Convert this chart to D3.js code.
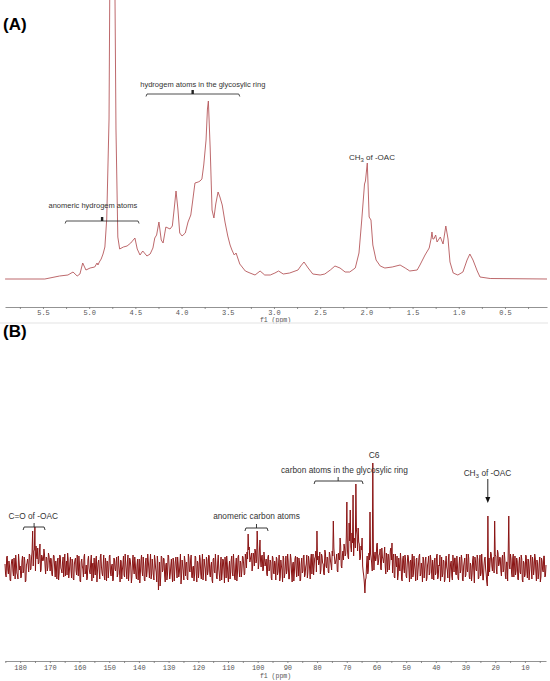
<!DOCTYPE html>
<html>
<head>
<meta charset="utf-8">
<script src="https://cdnjs.cloudflare.com/ajax/libs/d3/7.8.5/d3.min.js"></script>
<style>
  body { margin: 0; background: #fff; }
  svg { display: block; }
  .lab { font-family: "Liberation Sans", Arial, sans-serif; fill: #333; }
  .axis text { font-family: "Liberation Mono", "DejaVu Sans Mono", monospace; fill: #555; }
  .axis line, .axis path { stroke: #777; stroke-width: 0.8; }
</style>
</head>
<body>
<svg id="chart"></svg>
<script>
/* -------- 1H spectrum (A) -------- */
let hPpm = [5.91,5.48,5.32,5.23,5.175,5.13,5.10,5.07,5.035,4.99,4.94,4.915,4.905,4.89,4.87,4.85,4.83,4.81,4.785,4.77,
  4.75,4.73,4.71,4.69,4.67,4.63,4.59,4.55,4.505,4.48,4.45,4.42,4.375,4.34,4.31,4.29,4.27,4.245,4.22,4.20,
  4.17,4.125,4.10,4.08,4.06,4.04,4.02,3.995,3.96,3.93,3.90,3.88,3.855,3.82,3.80,3.78,3.76,3.735,3.72,3.71,
  3.69,3.67,3.65,3.63,3.605,3.585,3.56,3.53,3.50,3.475,3.455,3.43,3.41,3.37,3.31,3.26,3.205,3.15,3.10,3.04,
  2.99,2.95,2.90,2.83,2.74,2.71,2.675,2.63,2.58,2.50,2.45,2.39,2.34,2.285,2.23,2.18,2.12,2.08,2.05,2.02,
  2.01,1.99,1.98,1.97,1.95,1.93,1.895,1.85,1.80,1.72,1.635,1.58,1.53,1.45,1.42,1.365,1.32,1.30,1.29,1.28,
  1.27,1.25,1.235,1.20,1.17,1.14,1.116,1.095,1.06,1.01,0.955,0.91,0.88,0.846,0.825,0.80,0.77,0.66,0.045];
let hInt = [0,0,3,4,7,3,5,16,9,11,12,16,14,17,20,25,32,60,160,400,
  700,400,150,42,30,32,33,36,41,30,24,28,23,25,31,41,44,57,39,36,
  52,50,53,70,88,70,46,43,46,57,64,78,96,97,98,100,114,139,170,178,
  130,69,61,75,87,82,74,57,43,34,29,24,26,15,8,6,4,8,4,4,
  6,8,5,6,9,13,17,11,5,4,5,9,13,11,7,7,11,26,59,95,
  98,116,90,62,59,34,19,13,11,12,14,11,8,9,14,24,31,40,47,40,
  40,44,37,42,35,53,40,17,6,4,7,19,25,19,14,8,2,0.5,0];
let hTicks = [5.75,5.5,5.25,5.0,4.75,4.5,4.25,4.0,3.75,3.5,3.25,3.0,2.75,2.5,2.25,2.0,1.75,1.5,1.25,1.0,0.75,0.5,0.25];
let hTickLabels = [5.5,5.0,4.5,4.0,3.5,3.0,2.5,2.0,1.5,1.0,0.5];

/* -------- 13C spectrum (B) -------- */
let cStart = 185.1, cEnd = 2.9;
// noise, two interleaved passes (even / odd points)
let cNoiseEven = [
  4,-9,12,-6,2,-13,8,-3,10,-11,5,-7,14,-2,-10,7,-5,11,-14,3,
  9,-4,13,-1,16,2,18,-3,12,20,5,15,-2,11,8,14,-6,10,1,12,
  -3,9,-8,13,0,7,-11,10,-5,12,-2,6,-9,14,1,-7,9,-4,11,-10,
  6,-12,8,-3,13,-8,4,-14,9,-1,11,-6,3,-10,12,-4,7,-13,5,10,
  -7,12,-2,8,-11,14,-5,3,-9,10,-13,6,-1,13,-8,4,-12,9,-3,11,
  -6,2,-14,7,-2,12,-9,5,-11,13,-4,8,-15,6,-1,11,-7,3,-12,9,
  -5,13,-8,2,-13,10,-3,7,-10,14,-6,1,-12,8,-4,12,-22,6,-9,11,
  -2,9,-14,5,-7,12,-11,3,-5,10,-13,7,-1,11,-9,4,-16,8,-3,12,
  -8,6,-12,10,-4,13,-10,2,-7,11,-14,5,-2,9,-11,14,-6,3,-13,8,
  -3,12,-9,6,-15,10,-5,2,-11,13,-7,4,-12,9,-2,11,-10,5,-14,7,
  -4,12,-8,3,-12,10,-6,13,-9,5,-2,11,-7,14,0,9,18,6,12,-3,
  15,2,17,8,20,4,16,1,13,-2,10,5,-6,11,-3,8,-10,12,-5,7,
  -12,9,-4,13,-9,2,-14,10,-6,12,-2,7,-11,14,-5,4,-13,9,-1,11,
  -8,6,-12,10,-3,13,-7,4,-10,12,-1,9,-6,14,2,11,-4,8,3,16,
  -2,12,4,-7,15,0,10,-5,13,3,17,-1,11,6,14,-4,9,18,2,12,
  8,20,14,26,11,22,30,16,25,12,28,19,33,15,24,10,18,2,-8,-25,
  -10,12,-3,8,14,5,20,-2,16,10,22,6,14,-1,18,9,12,2,15,-4,
  13,4,20,-6,11,-9,14,1,-12,10,-3,7,-13,12,-5,9,-10,13,-2,6,
  -11,14,-6,3,-13,10,-4,12,-8,5,-14,9,-1,11,-10,6,-7,13,-3,8,
  -12,10,-5,14,-9,2,-13,11,-6,7,-11,12,-2,9,-14,5,-8,13,-4,10,
  -7,3,-12,11,-2,8,-13,6,-9,14,-4,10,-11,2,-6,12,-15,7,-3,9,
  -10,13,-5,4,-12,9,-1,-14,-22,10,6,14,-3,11,2,12,-6,15,4,10,
  -8,13,-2,9,-11,6,15,3,14,-5,10,-9,12,-3,7,-12,11,-6,9,-14,
  5,-7,12,-10,8,-3,13,-11,6,-1,10,-13,4,-6,11,-9,7,-4,12,-8];
let cNoiseOdd = [
  -6,11,-2,7,-12,3,9,-8,1,13,-5,-11,6,2,-9,12,-3,8,-13,5,
  3,14,-2,10,6,17,1,22,9,4,16,-4,13,7,19,2,11,-3,15,6,
  10,-6,4,12,-9,2,8,-12,13,0,-5,11,3,-8,7,15,-10,5,-2,9,
  -11,4,10,-7,-1,12,-13,6,2,-9,14,-4,-12,8,0,-6,13,3,-10,-2,
  9,-14,5,-3,11,1,-8,13,-12,4,7,-10,12,-5,2,-13,10,-1,6,-9,
  12,-4,8,-11,3,-7,14,-2,6,-13,10,1,-9,13,-6,4,-11,9,-1,-15,
  7,-3,11,-12,6,-9,14,-1,4,-11,9,-7,13,0,-14,5,-10,-18,12,-4,
  10,-8,3,-12,13,1,-6,9,-14,6,-2,11,-10,4,-5,14,-8,2,-12,7,
  5,-11,14,-3,8,-9,1,-13,12,-4,7,-10,13,-6,3,-12,9,-1,11,-7,
  13,-6,2,-12,9,-3,14,-10,6,-1,-13,11,-5,8,-15,4,12,-8,1,-11,
  8,-5,14,-10,3,-13,11,-2,7,-9,12,4,-6,10,16,3,21,9,15,2,
  11,19,5,14,-1,18,7,12,-3,16,2,9,-8,13,-2,6,-12,10,-6,4,
  11,-7,5,-13,8,-2,12,-10,3,-6,14,-11,1,9,-14,6,-4,12,-9,2,
  10,-13,4,-5,12,-9,1,13,-4,7,-11,14,3,-7,10,17,-3,12,5,-6,
  14,5,-6,18,2,11,-4,16,7,-2,12,20,4,9,-3,15,8,22,0,17,
  24,12,31,18,9,27,21,35,14,30,20,38,17,26,8,22,13,-4,-15,-12,
  4,-6,15,2,10,-3,17,11,7,24,3,13,19,-2,11,5,21,-6,9,14,
  -2,17,8,-5,14,-10,6,12,-7,3,15,-11,9,-1,13,-8,4,11,-14,8,
  6,-9,12,-2,9,-12,4,14,-6,-1,11,-10,7,-13,3,12,-5,8,-11,1,
  5,-7,12,-11,3,13,-4,-9,8,-14,6,1,-10,14,-3,7,-12,4,10,-6,
  12,-10,4,-5,13,-12,2,10,-7,-1,14,-9,5,-13,8,-3,11,-2,13,-11,
  6,-8,14,-12,2,11,-6,-18,-8,-4,16,2,9,-5,13,-1,18,2,11,-3,
  9,-4,16,-8,6,-13,11,-1,9,-9,14,2,-7,10,-11,4,-4,13,-12,7,
  -9,13,-3,9,-12,6,-1,11,-7,14,-4,8,-11,5,-14,10,-2,12,-9,3];
let cPeakPpm = [175.7,175.0,173.3,103.3,100.2,99.2,80.0,74.6,72.3,69.9,69.3,68.9,67.9,66.9,66.2,64.9,
  62.2,61.2,59.8,58.1,54.8,22.5,20.1,15.4];
let cPeakInt = [37,41,24,34,37,28,37,47,30,66,45,58,73,84,40,30,
  56,105,25,20,25,52,47,52];
let cTicks = d3.range(5, 186, 5);
let cTickLabels = [180,170,160,150,140,130,120,110,100,90,80,70,60,50,40,30,20,10];

let width = 550;
let height = 681;

let svg = d3.select("#chart")
    .attr("width", width)
    .attr("height", height);

// ---------- panel A ----------
let xA = d3.scaleLinear().domain([5.911, 0.045]).range([5, 547]);
let yA = d3.scaleLinear().domain([0, 279]).range([279, 0]);

svg.append("clipPath").attr("id", "clipA")
  .append("rect").attr("x", 0).attr("y", 0).attr("width", width).attr("height", 300);

let lineA = d3.line().x(d => xA(d[0])).y(d => yA(d[1]));
svg.append("path")
    .datum(d3.zip(hPpm, hInt))
    .attr("clip-path", "url(#clipA)")
    .attr("d", lineA)
    .attr("fill", "none")
    .attr("stroke", "#b5585b")
    .attr("stroke-width", 0.9);

let axisA = d3.axisBottom(xA)
    .tickValues(hTicks)
    .tickSize(2)
    .tickSizeOuter(0)
    .tickPadding(1.5)
    .tickFormat(d => hTickLabels.some(v => Math.abs(v - d) < 1e-6) ? d.toFixed(1) : "");
svg.append("g").attr("class", "axis")
    .attr("transform", "translate(0,307)")
    .call(axisA)
    .selectAll("text").style("font-size", "7px");

svg.append("text")
    .attr("x", 275.5).attr("y", 322)
    .attr("text-anchor", "middle")
    .style("font-family", "'Liberation Mono', monospace").style("font-size", "6.5px").style("fill", "#555")
    .text("f1 (ppm)");

// light separator between panels
svg.append("line")
    .attr("x1", 0).attr("x2", 548).attr("y1", 323).attr("y2", 323)
    .attr("stroke", "#ececec").attr("stroke-width", 1.5);

// panel letters
svg.append("text").attr("x", 3).attr("y", 30)
    .style("font-family", "'Liberation Sans', Arial, sans-serif")
    .style("font-weight", "bold").style("font-size", "17px").text("(A)");
svg.append("text").attr("x", 3).attr("y", 337)
    .style("font-family", "'Liberation Sans', Arial, sans-serif")
    .style("font-weight", "bold").style("font-size", "17px").text("(B)");

// brackets in A
function bracketA(p1, p2, pc, y) {
  let x1 = xA(p1), x2 = xA(p2), xc = xA(pc);
  svg.append("path")
    .attr("d", `M${x1},${y + 2.5} L${x1 + 1},${y} L${x2 - 1},${y} L${x2},${y + 2.5}`)
    .attr("fill", "none").attr("stroke", "#222").attr("stroke-width", 0.8);
  svg.append("rect").attr("x", xc - 1.2).attr("y", y - 4).attr("width", 2.4).attr("height", 4)
    .attr("fill", "#222");
}
bracketA(4.385, 3.37, 3.88, 94);
bracketA(5.26, 4.46, 4.86, 221);

svg.append("text").attr("class", "lab")
    .attr("x", xA(3.77)).attr("y", 87).attr("text-anchor", "middle")
    .style("font-size", "7.5px").text("hydrogem atoms in the glycosylic ring");
svg.append("text").attr("class", "lab")
    .attr("x", xA(4.96)).attr("y", 208).attr("text-anchor", "middle")
    .style("font-size", "7.5px").text("anomeric hydrogem atoms");

function ch3Label(x, y, size) {
  let t = svg.append("text").attr("class", "lab")
      .attr("x", x).attr("y", y).attr("text-anchor", "middle")
      .style("font-size", size + "px");
  t.append("tspan").text("CH");
  t.append("tspan").attr("dy", size * 0.2).style("font-size", (size * 0.75) + "px").text("3");
  t.append("tspan").attr("dy", -size * 0.2).text(" of -OAC");
}
ch3Label(xA(1.94), 160, 8);

// ---------- panel B ----------
let xB = d3.scaleLinear().domain([cStart, cEnd]).range([5, 546]);
let yB = d3.scaleLinear().domain([-40, 110]).range([608, 458]);

// digital points: even/odd passes alternate along the ppm axis
let nPts = cNoiseEven.length * 2;
let cStep = (cStart - cEnd) / (nPts - 1);
let cSeries = [];
cNoiseEven.forEach((v, i) => {
  cSeries.push([cStart - (2 * i) * cStep, v]);
  cSeries.push([cStart - (2 * i + 1) * cStep, cNoiseOdd[i]]);
});
cPeakPpm.forEach((p, k) => {
  let i = Math.round((cStart - p) / cStep);
  cSeries[i][1] = cPeakInt[k];
});

let lineB = d3.line().x(d => xB(d[0])).y(d => yB(d[1]));
svg.append("path")
    .datum(cSeries)
    .attr("d", lineB)
    .attr("fill", "none")
    .attr("stroke", "#8a1414")
    .attr("stroke-width", 1.0)
    .attr("stroke-linejoin", "round");

let axisB = d3.axisBottom(xB)
    .tickValues(cTicks)
    .tickSize(2)
    .tickSizeOuter(0)
    .tickPadding(2.5)
    .tickFormat(d => cTickLabels.includes(d) ? d : "");
svg.append("g").attr("class", "axis")
    .attr("transform", "translate(0,661)")
    .call(axisB)
    .selectAll("text").style("font-size", "7px");

svg.append("text")
    .attr("x", 275.5).attr("y", 678)
    .attr("text-anchor", "middle")
    .style("font-family", "'Liberation Mono', monospace").style("font-size", "6.5px").style("fill", "#555")
    .text("f1 (ppm)");

function bracketB(p1, p2, pc, y) {
  let x1 = xB(p1), x2 = xB(p2), xc = xB(pc);
  svg.append("path")
    .attr("d", `M${x1},${y + 3} L${x1 + 1},${y} L${x2 - 1},${y} L${x2},${y + 3} M${xc},${y} L${xc},${y - 4}`)
    .attr("fill", "none").attr("stroke", "#222").attr("stroke-width", 0.9);
}
bracketB(179.0, 171.6, 175.3, 527);
bracketB(104.3, 96.5, 100.4, 528);
bracketB(81.0, 64.5, 72.9, 481);

svg.append("text").attr("class", "lab")
    .attr("x", xB(175.6)).attr("y", 519).attr("text-anchor", "middle")
    .style("font-size", "8.3px").text("C=O of -OAC");
svg.append("text").attr("class", "lab")
    .attr("x", xB(100.4)).attr("y", 519).attr("text-anchor", "middle")
    .style("font-size", "8.3px").text("anomeric carbon atoms");
svg.append("text").attr("class", "lab")
    .attr("x", xB(70.8)).attr("y", 473).attr("text-anchor", "middle")
    .style("font-size", "8.3px").text("carbon atoms in the glycosylic ring");
svg.append("text").attr("class", "lab")
    .attr("x", xB(60.8)).attr("y", 458).attr("text-anchor", "middle")
    .style("font-size", "8.5px").text("C6");
ch3Label(xB(22.6), 476, 8.3);

// arrow to the CH3 signal
let xArrow = xB(22.5);
svg.append("line").attr("x1", xArrow).attr("x2", xArrow).attr("y1", 479).attr("y2", 497)
    .attr("stroke", "#111").attr("stroke-width", 0.9);
svg.append("path")
    .attr("d", `M${xArrow - 2.5},${497} L${xArrow + 2.5},${497} L${xArrow},${503} Z`)
    .attr("fill", "#111");
</script>
</body>
</html>
